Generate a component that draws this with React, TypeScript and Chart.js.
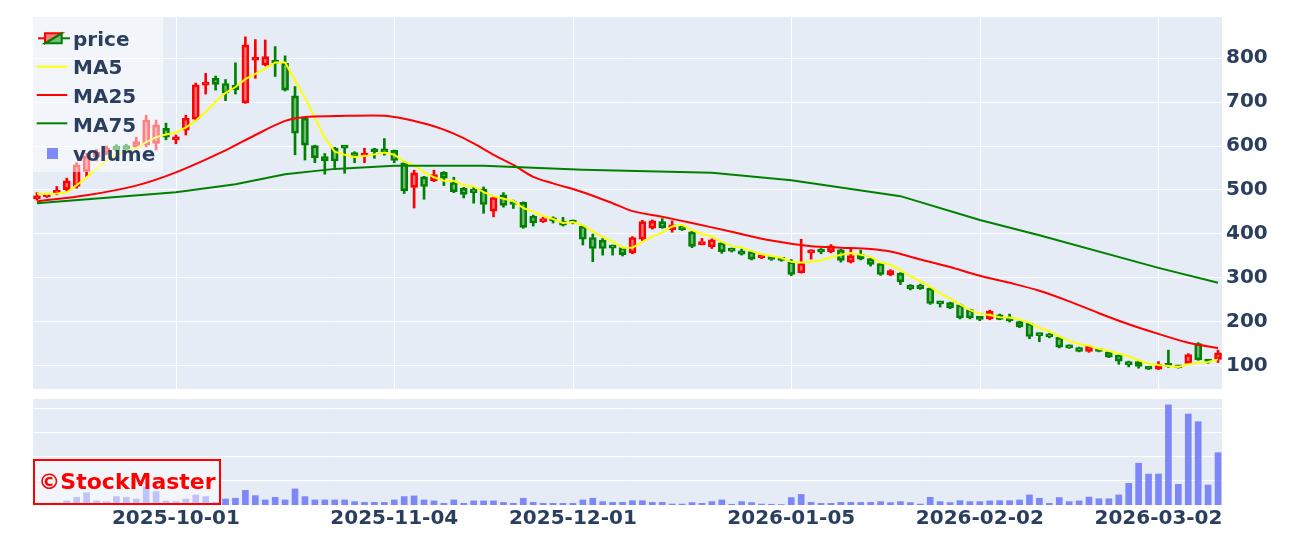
import React, { useEffect, useRef } from 'react';
import { Chart, registerables } from 'chart.js';

Chart.register(...registerables);

// ---------- categories: trading days (Tokyo) ----------
const tradingDays: [string, number[]][] = [
  ['2025-09', [9, 10, 11, 12, 16, 17, 18, 19, 22, 24, 25, 26, 29, 30]],
  ['2025-10', [1, 2, 3, 6, 7, 8, 9, 10, 14, 15, 16, 17, 20, 21, 22, 23, 24, 27, 28, 29, 30, 31]],
  ['2025-11', [4, 5, 6, 7, 10, 11, 12, 13, 14, 17, 18, 19, 20, 21, 25, 26, 27, 28]],
  ['2025-12', [1, 2, 3, 4, 5, 8, 9, 10, 11, 12, 15, 16, 17, 18, 19, 22, 23, 24, 25, 26, 29, 30]],
  ['2026-01', [5, 6, 7, 8, 9, 13, 14, 15, 16, 19, 20, 21, 22, 23, 26, 27, 28, 29, 30]],
  ['2026-02', [2, 3, 4, 5, 6, 9, 10, 12, 13, 16, 17, 18, 19, 20, 24, 25, 26, 27]],
  ['2026-03', [2, 3, 4, 5, 6, 9, 10]],
];
const dates: string[] = tradingDays.flatMap(([ym, days]) =>
  days.map((d) => `${ym}-${String(d).padStart(2, '0')}`)
);

const tickDates = ['2025-10-01', '2025-11-04', '2025-12-01', '2026-01-05', '2026-02-02', '2026-03-02'];
const priceTicks = [100, 200, 300, 400, 500, 600, 700, 800];
const volumeTicks = [1, 2, 3, 4];

// ---------- series ----------
const open = [480, 485, 492, 501, 508, 542, 575, 586, 600, 601, 598, 602, 606, 640, 614, 636, 661, 738, 754, 742, 738, 698, 795, 784, 792, 788, 714, 663, 601, 576, 595, 600, 585, 577, 590, 591, 590, 562, 506, 530, 521, 540, 517, 504, 502, 502, 452, 489, 473, 472, 441, 428, 436, 429, 430, 418, 392, 386, 374, 369, 357, 388, 413, 428, 410, 418, 405, 376, 371, 380, 367, 362, 360, 346, 347, 344, 337, 312, 357, 366, 360, 364, 336, 354, 344, 333, 307, 311, 284, 284, 277, 246, 244, 239, 228, 210, 207, 216, 211, 201, 197, 174, 173, 165, 147, 142, 133, 138, 132, 125, 109, 110, 97, 93, 103, 99, 106, 151, 112, 115];
const high = [494, 492, 508, 527, 562, 583, 592, 600, 603, 604, 620, 670, 659, 652, 625, 670, 743, 765, 759, 751, 789, 848, 842, 841, 826, 805, 735, 665, 602, 583, 597, 601, 587, 595, 595, 617, 591, 565, 545, 531, 545, 542, 529, 506, 506, 507, 485, 494, 477, 473, 443, 439, 439, 438, 432, 420, 400, 390, 375, 370, 394, 431, 432, 435, 430, 419, 406, 390, 389, 381, 368, 366, 361, 353, 348, 346, 342, 388, 364, 367, 376, 365, 367, 363, 345, 334, 319, 312, 285, 286, 278, 247, 245, 241, 229, 211, 227, 218, 218, 202, 198, 175, 174, 166, 148, 143, 146, 139, 133, 126, 111, 112, 98, 110, 136, 100, 128, 153, 113, 136];
const low = [477, 483, 489, 497, 504, 530, 566, 580, 588, 589, 594, 598, 591, 614, 605, 625, 657, 718, 727, 703, 718, 697, 754, 782, 758, 725, 580, 568, 562, 536, 551, 538, 562, 562, 572, 579, 562, 492, 459, 479, 519, 510, 494, 482, 470, 447, 439, 461, 458, 413, 418, 426, 425, 418, 423, 375, 337, 352, 352, 350, 355, 385, 411, 413, 404, 408, 369, 375, 367, 356, 359, 352, 341, 344, 340, 338, 305, 311, 343, 355, 357, 336, 334, 341, 327, 306, 305, 285, 273, 274, 240, 234, 230, 207, 207, 203, 205, 205, 200, 187, 162, 155, 164, 141, 140, 132, 131, 132, 119, 104, 98, 95, 92, 92, 97, 95, 105, 113, 106, 108];
const close = [487, 490, 500, 521, 557, 577, 586, 595, 591, 592, 610, 659, 648, 620, 619, 663, 739, 744, 740, 720, 728, 830, 800, 803, 788, 727, 629, 602, 573, 566, 566, 595, 576, 582, 587, 587, 567, 498, 539, 508, 535, 527, 496, 490, 494, 467, 483, 465, 467, 415, 425, 435, 430, 420, 425, 388, 367, 367, 368, 353, 392, 428, 430, 414, 421, 410, 372, 383, 387, 360, 361, 354, 343, 350, 342, 340, 308, 333, 362, 359, 373, 340, 351, 343, 331, 308, 317, 291, 275, 276, 242, 241, 232, 209, 209, 206, 225, 206, 203, 189, 167, 169, 166, 143, 141, 133, 145, 133, 120, 111, 103, 99, 93, 104, 99, 96, 126, 114, 109, 130];

const ma5 = [492, 491, 492, 495, 511, 529, 548, 567, 581, 588, 595, 609, 620, 626, 631, 642, 658, 677, 701, 721, 734, 752, 764, 776, 790, 790, 749, 710, 664, 619, 587, 580, 575, 577, 581, 585, 580, 564, 556, 540, 529, 521, 521, 511, 508, 495, 486, 480, 475, 459, 451, 441, 434, 425, 427, 420, 406, 393, 383, 369, 369, 382, 394, 403, 417, 421, 409, 400, 395, 382, 373, 369, 361, 354, 350, 346, 337, 335, 337, 340, 347, 353, 357, 353, 348, 335, 330, 318, 304, 293, 280, 265, 253, 240, 227, 219, 216, 211, 210, 206, 198, 187, 179, 167, 157, 150, 146, 139, 134, 128, 122, 113, 105, 102, 100, 98, 104, 108, 109, 115];

const ma25Days = [0, 5, 10, 14, 19, 22, 25, 27, 30, 35, 37, 40, 42, 44, 46, 48, 50, 52, 55, 58, 60, 63, 66, 70, 74, 78, 81, 84, 86, 89, 92, 95, 98, 101, 104, 107, 110, 113, 116, 119];
const ma25 = [474, 488, 510, 540, 590, 625, 657, 666, 668, 669, 662, 645, 628, 606, 580, 557, 530, 515, 495, 470, 452, 439, 425, 405, 385, 372, 369, 366, 360, 342, 325, 305, 289, 271, 247, 220, 195, 173, 153, 141];

const ma75Days = [0, 14, 20, 25, 30, 36, 45, 55, 68, 76, 87, 95, 101, 113, 119];
const ma75 = [470, 495, 513, 536, 548, 555, 555, 546, 539, 522, 486, 432, 397, 323, 289];

const volume = [0.05, 0.05, 0.08, 0.17, 0.32, 0.51, 0.17, 0.14, 0.35, 0.32, 0.25, 0.76, 0.56, 0.17, 0.14, 0.25, 0.42, 0.35, 0.11, 0.25, 0.28, 0.61, 0.39, 0.21, 0.32, 0.21, 0.67, 0.35, 0.21, 0.21, 0.21, 0.21, 0.14, 0.11, 0.11, 0.11, 0.21, 0.35, 0.38, 0.21, 0.17, 0.07, 0.21, 0.07, 0.17, 0.17, 0.17, 0.11, 0.07, 0.28, 0.11, 0.07, 0.07, 0.07, 0.07, 0.21, 0.28, 0.14, 0.11, 0.11, 0.18, 0.18, 0.11, 0.11, 0.04, 0.04, 0.1, 0.07, 0.14, 0.21, 0.03, 0.14, 0.1, 0.04, 0.03, 0.02, 0.31, 0.44, 0.11, 0.07, 0.07, 0.11, 0.11, 0.11, 0.11, 0.14, 0.1, 0.14, 0.1, 0.04, 0.32, 0.14, 0.1, 0.18, 0.14, 0.14, 0.17, 0.18, 0.18, 0.21, 0.42, 0.28, 0.07, 0.31, 0.14, 0.17, 0.33, 0.26, 0.26, 0.42, 0.9, 1.74, 1.29, 1.29, 4.17, 0.86, 3.79, 3.47, 0.83, 2.18];

// ---------- styles ----------
const TEXT = '#2a3f5f';
const FONT_FAMILY = "'DejaVu Sans', 'Noto Sans', sans-serif";
const PLOT_BG = '#e5ecf6';
const UP_LINE = '#ff0000';
const DOWN_LINE = '#008000';
const UP_FILL = 'rgba(255,0,0,0.5)';
const DOWN_FILL = 'rgba(0,128,0,0.5)';
const VOL_COLOR = 'rgba(99,110,250,0.8)';

const PRICE_MIN = 47.7;
const PRICE_MAX = 893.2;
const VOL_MAX = 4.833;
const VOL_PANEL_TOP = 4.417;

const panelPlugin = {
  id: 'panels',
  beforeDraw(chart: any) {
    const { ctx, chartArea, scales } = chart;
    const { left, right } = chartArea;
    const py = scales.y;
    const vy = scales.yv;
    const sx = scales.x;
    ctx.save();
    ctx.fillStyle = PLOT_BG;
    ctx.fillRect(left, py.top, right - left, py.bottom - py.top);
    const vTop = vy.getPixelForValue(VOL_PANEL_TOP);
    ctx.fillRect(left, vTop, right - left, vy.bottom - vTop);
    ctx.strokeStyle = '#ffffff';
    ctx.lineWidth = 1;
    tickDates.forEach((d) => {
      const px = Math.round(sx.getPixelForValue(dates.indexOf(d))) + 0.5;
      ctx.beginPath();
      ctx.moveTo(px, py.top);
      ctx.lineTo(px, py.bottom);
      ctx.stroke();
    });
    ctx.restore();
  },
};

const legendLabels = ['price', 'MA5', 'MA25', 'MA75', 'volume'];
const legendBaselines = [28.5, 57.3, 86, 114.7, 143.5];

export default function App() {
  const ref = useRef<HTMLCanvasElement>(null);

  useEffect(() => {
    const idx = dates.map((_, i) => i);
    const up = idx.map((i) => close[i] >= open[i]);
    const lineColors = idx.map((i) => (up[i] ? UP_LINE : DOWN_LINE));
    const fillColors = idx.map((i) => (up[i] ? UP_FILL : DOWN_FILL));
    const tickFont = { family: FONT_FAMILY, size: 20, weight: 'bold' as const };

    const chart = new Chart(ref.current as HTMLCanvasElement, {
      type: 'bar',
      data: {
        datasets: [
          {
            type: 'bar',
            label: 'wickHigh',
            data: idx.map((i) => ({ x: i, y: [Math.max(open[i], close[i]), high[i]] })) as any,
            backgroundColor: lineColors,
            barThickness: 2,
            grouped: false,
            yAxisID: 'y',
            order: 6,
          },
          {
            type: 'bar',
            label: 'wickLow',
            data: idx.map((i) => ({ x: i, y: [low[i], Math.min(open[i], close[i])] })) as any,
            backgroundColor: lineColors,
            barThickness: 2,
            grouped: false,
            yAxisID: 'y',
            order: 6,
          },
          {
            type: 'bar',
            label: 'price',
            data: idx.map((i) => ({ x: i, y: [open[i], close[i]] })) as any,
            backgroundColor: fillColors,
            borderColor: lineColors,
            borderWidth: 2,
            borderSkipped: false,
            barThickness: 7,
            minBarLength: 3,
            grouped: false,
            yAxisID: 'y',
            order: 5,
          },
          {
            type: 'line',
            label: 'MA5',
            data: idx.map((i) => ({ x: i, y: ma5[i] })),
            borderColor: '#ffff00',
            borderWidth: 2,
            pointRadius: 0,
            tension: 0,
            yAxisID: 'y',
            order: 3,
          },
          {
            type: 'line',
            label: 'MA25',
            data: ma25Days.map((d, k) => ({ x: d, y: ma25[k] })),
            borderColor: '#ff0000',
            borderWidth: 2,
            pointRadius: 0,
            tension: 0.3,
            yAxisID: 'y',
            order: 2,
          },
          {
            type: 'line',
            label: 'MA75',
            data: ma75Days.map((d, k) => ({ x: d, y: ma75[k] })),
            borderColor: '#008000',
            borderWidth: 2,
            pointRadius: 0,
            tension: 0,
            yAxisID: 'y',
            order: 1,
          },
          {
            type: 'bar',
            label: 'volume',
            data: idx.map((i) => ({ x: i, y: volume[i] })),
            backgroundColor: VOL_COLOR,
            barThickness: 6,
            grouped: false,
            yAxisID: 'yv',
            order: 7,
          },
        ],
      },
      options: {
        responsive: false,
        animation: false,
        devicePixelRatio: 1,
        layout: { padding: { left: 33, top: 17, right: 0, bottom: 0 } },
        plugins: { legend: { display: false }, tooltip: { enabled: false } },
        scales: {
          x: {
            type: 'linear',
            position: 'bottom',
            offset: false,
            min: -0.4,
            max: 119.4,
            afterBuildTicks: (s: any) => {
              s.ticks = tickDates.map((d) => ({ value: dates.indexOf(d) }));
            },
            afterFit: (s: any) => {
              s.height = 38;
            },
            grid: { display: false, drawTicks: false },
            border: { display: false },
            ticks: {
              autoSkip: false,
              maxRotation: 0,
              padding: 2,
              color: TEXT,
              font: tickFont,
              callback: (v: any) => dates[Number(v)] ?? '',
            },
          },
          y: {
            type: 'linear',
            position: 'right',
            stack: 'panels',
            stackWeight: 372,
            min: PRICE_MIN,
            max: PRICE_MAX,
            afterBuildTicks: (s: any) => {
              s.ticks = priceTicks.map((v) => ({ value: v }));
            },
            afterFit: (s: any) => {
              s.width = 69;
            },
            grid: { color: '#ffffff', lineWidth: 1, drawTicks: false },
            border: { display: false },
            ticks: { padding: 4, color: TEXT, font: tickFont },
          },
          yv: {
            type: 'linear',
            position: 'right',
            stack: 'panels',
            stackWeight: 116,
            min: 0,
            max: VOL_MAX,
            afterBuildTicks: (s: any) => {
              s.ticks = volumeTicks.map((v) => ({ value: v }));
            },
            afterFit: (s: any) => {
              s.width = 69;
            },
            grid: { color: '#ffffff', lineWidth: 1, drawTicks: false },
            border: { display: false },
            ticks: { display: false },
          },
        },
      } as any,
      plugins: [panelPlugin],
    });
    return () => chart.destroy();
  }, []);

  const textStyle: React.CSSProperties = {
    position: 'absolute',
    left: 40,
    fontFamily: FONT_FAMILY,
    fontWeight: 700,
    fontSize: 20,
    lineHeight: '20px',
    color: TEXT,
    whiteSpace: 'nowrap',
  };

  return (
    <div style={{ position: 'fixed', left: 0, top: 0, width: 1291, height: 543, background: '#ffffff', overflow: 'hidden' }}>
      <canvas ref={ref} width={1291} height={543} style={{ position: 'absolute', left: 0, top: 0, width: 1291, height: 543 }} />
      <div style={{ position: 'absolute', left: 33, top: 17, width: 130, height: 155, background: 'rgba(255,255,255,0.5)' }}>
        <svg width={130} height={155} style={{ position: 'absolute', left: 0, top: 0 }}>
          <line x1={5} y1={21.3} x2={12} y2={21.3} stroke={UP_LINE} strokeWidth={2} />
          <polygon points="12,16.3 28.7,16.3 12,26.3" fill={UP_FILL} stroke={UP_LINE} strokeWidth={2} />
          <polygon points="28.7,16.3 28.7,26.3 12,26.3" fill={DOWN_FILL} stroke={DOWN_LINE} strokeWidth={2} />
          <line x1={28.7} y1={21.3} x2={37} y2={21.3} stroke={DOWN_LINE} strokeWidth={2} />
          <line x1={3.7} y1={49.7} x2={34.3} y2={49.7} stroke="#ffff00" strokeWidth={2} />
          <line x1={3.7} y1={78} x2={34.3} y2={78} stroke="#ff0000" strokeWidth={2} />
          <line x1={3.7} y1={106.3} x2={34.3} y2={106.3} stroke="#008000" strokeWidth={2} />
          <rect x={14} y={131} width={11} height={11} fill={VOL_COLOR} />
        </svg>
        {legendLabels.map((t, k) => (
          <div key={t} style={{ ...textStyle, top: legendBaselines[k] - 16.9 }}>
            {t}
          </div>
        ))}
      </div>
      <div
        style={{
          position: 'absolute',
          left: 33,
          top: 459,
          width: 188,
          height: 46,
          boxSizing: 'border-box',
          border: '2px solid #ff0000',
          background: 'rgba(255,255,255,0.5)',
          color: '#ff0000',
          fontFamily: FONT_FAMILY,
          fontWeight: 700,
          fontSize: 22,
          lineHeight: '42px',
          textAlign: 'center',
          whiteSpace: 'nowrap',
        }}
      >
        ©StockMaster
      </div>
    </div>
  );
}
